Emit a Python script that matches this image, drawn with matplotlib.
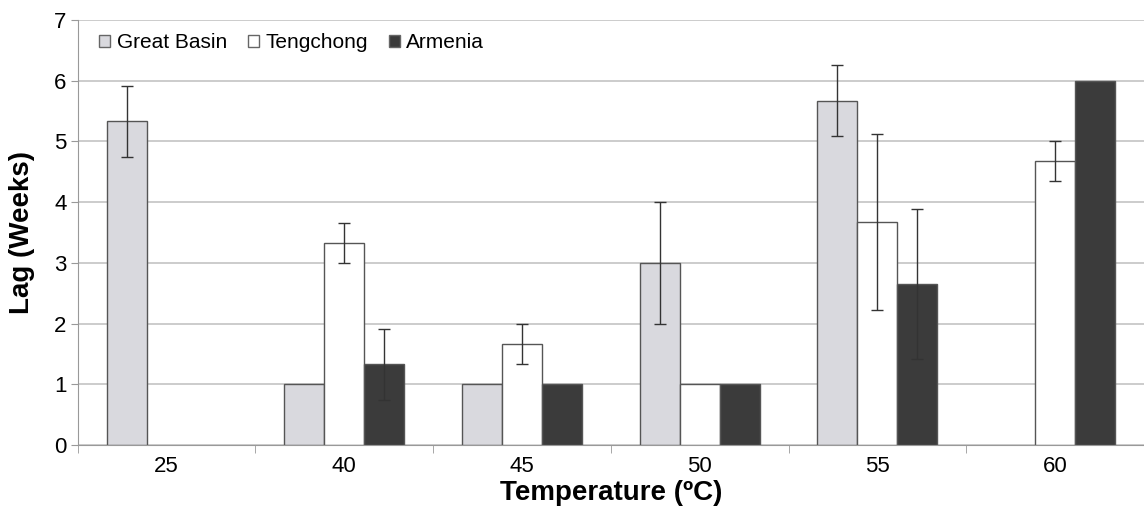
import matplotlib.pyplot as plt
import numpy as np

plt.rcParams['font.family'] = ['Liberation Sans', 'DejaVu Sans']

temps = ["25", "40", "45", "50", "55", "60"]

great_basin = [5.33, 1.0, 1.0, 3.0, 5.67, 0.0]
great_basin_err = [0.58, 0.0, 0.0, 1.0, 0.58, 0.0]

tengchong = [0.0, 3.33, 1.67, 1.0, 3.67, 4.67]
tengchong_err = [0.0, 0.33, 0.33, 0.0, 1.45, 0.33]

armenia = [0.0, 1.33, 1.0, 1.0, 2.65, 6.0]
armenia_err = [0.0, 0.58, 0.0, 0.0, 1.24, 0.0]

series = [
    ("Great Basin", great_basin, great_basin_err, "#d9d9de"),
    ("Tengchong", tengchong, tengchong_err, "#ffffff"),
    ("Armenia", armenia, armenia_err, "#3b3b3b"),
]

fig = plt.figure(figsize=(11.44, 5.23), dpi=100)
ax = fig.add_axes([0.068, 0.149, 0.932, 0.813])

x = np.arange(len(temps))
w = 0.225
for i, (name, vals, errs, col) in enumerate(series):
    pos = x + (i - 1) * w
    # skip empty bars so no flat outline is drawn on the axis
    keep = [j for j, v in enumerate(vals) if v > 0]
    ax.bar(pos[keep], [vals[j] for j in keep], w, color=col,
           edgecolor="#555555", linewidth=1.0, label=name, zorder=2)
    idx = [j for j, e in enumerate(errs) if e > 0]
    ax.errorbar(pos[idx], [vals[j] for j in idx], yerr=[errs[j] for j in idx],
                fmt="none", ecolor="#333333", elinewidth=1.0, capsize=4,
                capthick=1.0, zorder=3)

ax.set_ylim(0, 7)
ax.set_xlim(-0.5, len(temps) - 0.5)
ax.set_yticks(range(0, 8))
ax.yaxis.grid(True, color="#c4c4c4", linewidth=1.2, zorder=0)
ax.set_axisbelow(True)

ax.set_xticks(x)
ax.set_xticklabels(temps)
ax.set_xticks(np.arange(len(temps) + 1) - 0.5, minor=True)
ax.tick_params(axis="x", which="major", length=0, labelsize=16, pad=8)
ax.tick_params(axis="x", which="minor", length=6, color="#999999")
ax.tick_params(axis="y", length=5, color="#999999", labelsize=16, pad=3)

for side in ("top", "right"):
    ax.spines[side].set_visible(False)
ax.spines["left"].set_color("#999999")
ax.spines["bottom"].set_color("#999999")

ax.set_xlabel("Temperature (ºC)", fontsize=20, fontweight="bold", labelpad=2)
ax.set_ylabel("Lag (Weeks)", fontsize=20, fontweight="bold", labelpad=14)

leg = ax.legend(loc="upper left", ncol=3, frameon=False, fontsize=15,
                handlelength=0.55, handleheight=0.55, handletextpad=0.3,
                columnspacing=1.0, bbox_to_anchor=(0.007, 1.0),
                borderaxespad=0.25)
for h in leg.legend_handles:
    h.set_edgecolor("#666666")

fig.savefig("out.png", dpi=100)
